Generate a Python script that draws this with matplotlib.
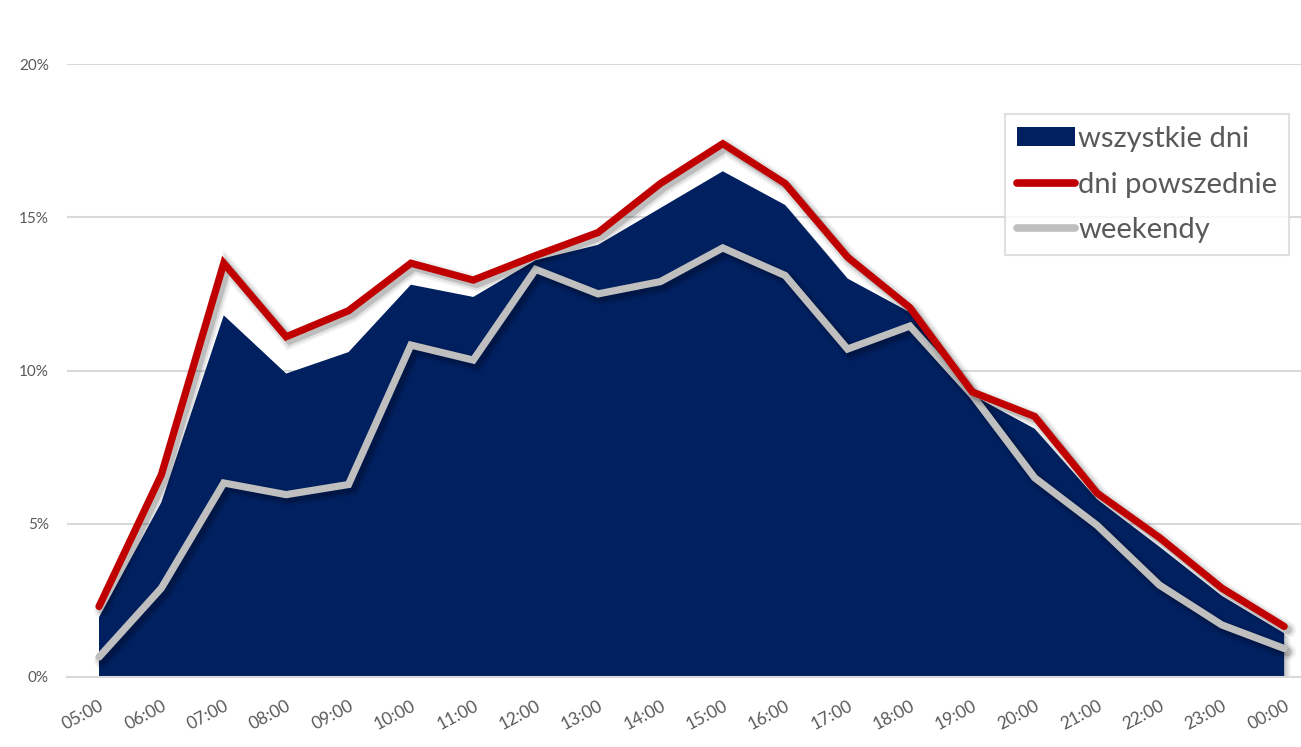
import matplotlib
matplotlib.use("Agg")
import matplotlib.pyplot as plt
import matplotlib.patheffects as pe
from matplotlib.patches import Patch
from matplotlib.lines import Line2D
from matplotlib.ticker import FuncFormatter, MultipleLocator
import matplotlib.transforms as mtransforms

plt.rcParams['font.family'] = ['Lato', 'DejaVu Sans']

hours = ["05:00", "06:00", "07:00", "08:00", "09:00", "10:00", "11:00", "12:00",
         "13:00", "14:00", "15:00", "16:00", "17:00", "18:00", "19:00", "20:00",
         "21:00", "22:00", "23:00", "00:00"]

wszystkie_dni = [1.95, 5.7, 11.8, 9.9, 10.6, 12.8, 12.4, 13.6, 14.1, 15.3,
                 16.5, 15.4, 13.0, 11.9, 9.2, 8.1, 5.8, 4.25, 2.65, 1.43]
dni_powszednie = [2.3, 6.6, 13.5, 11.1, 11.95, 13.5, 12.95, 13.75, 14.5, 16.1,
                  17.4, 16.1, 13.7, 12.05, 9.3, 8.5, 6.0, 4.55, 2.9, 1.65]
weekendy = [0.65, 2.9, 6.33, 5.95, 6.28, 10.83, 10.34, 13.3, 12.5, 12.9,
            14.0, 13.1, 10.7, 11.45, 9.2, 6.5, 4.95, 3.0, 1.7, 0.93]

NAVY = "#002060"
RED = "#C00000"
GREY = "#BFBFBF"
TXT = "#595959"
GRID = "#D9D9D9"

fig = plt.figure(figsize=(13.01, 7.47), dpi=100)
ax = fig.add_axes([67 / 1301, 70 / 747, 1234 / 1301, 613 / 747])

x = list(range(len(hours)))


def line_shadow(lw):
    return [
        pe.SimpleLineShadow(offset=(2.5, -2.5), shadow_color="k", alpha=0.05, rho=0, linewidth=lw + 7),
        pe.SimpleLineShadow(offset=(2.5, -2.5), shadow_color="k", alpha=0.08, rho=0, linewidth=lw + 4),
        pe.SimpleLineShadow(offset=(2.5, -2.5), shadow_color="k", alpha=0.15, rho=0, linewidth=lw + 1),
        pe.Normal(),
    ]


area_shadow = [
    pe.SimplePatchShadow(offset=(1.5, -1.5), shadow_rgbFace="k", alpha=0.08, rho=0),
    pe.SimplePatchShadow(offset=(3, -3), shadow_rgbFace="k", alpha=0.08, rho=0),
    pe.SimplePatchShadow(offset=(4.5, -4.5), shadow_rgbFace="k", alpha=0.06, rho=0),
    pe.Normal(),
]

ax.yaxis.grid(True, color=GRID, linewidth=1.5, zorder=0)
ax.set_axisbelow(True)

area = ax.fill_between(x, 0, wszystkie_dni, color=NAVY, linewidth=0, zorder=2)
area.set_path_effects(area_shadow)

lw = 5.2
ax.plot(x, weekendy, color=GREY, linewidth=lw, solid_capstyle="round",
        solid_joinstyle="miter", zorder=3, path_effects=line_shadow(lw))
ax.plot(x, dni_powszednie, color=RED, linewidth=lw, solid_capstyle="round",
        solid_joinstyle="miter", zorder=4, path_effects=line_shadow(lw))

ax.set_xlim(-0.513, 19.27)
ax.set_ylim(0, 20)
ax.yaxis.set_major_locator(MultipleLocator(5))
ax.yaxis.set_major_formatter(FuncFormatter(lambda v, p: f"{int(v)}%"))

ax.set_xticks(x)
ax.set_xticklabels(hours, rotation=28, ha="right", rotation_mode="anchor",
                   fontsize=12.5, color=TXT)
offset = mtransforms.ScaledTranslation(2 / 72, 0, fig.dpi_scale_trans)
for lbl in ax.get_xticklabels():
    lbl.set_transform(lbl.get_transform() + offset)

ax.tick_params(axis="y", length=0, pad=13, labelsize=11, labelcolor=TXT)
ax.tick_params(axis="x", length=0, pad=15)

for s in ["top", "right", "left"]:
    ax.spines[s].set_visible(False)
ax.spines["bottom"].set_color(GRID)
ax.spines["bottom"].set_linewidth(1.5)

handles = [
    Patch(facecolor=NAVY, edgecolor="none", label="wszystkie dni"),
    Line2D([0], [0], color=RED, linewidth=5.5, solid_capstyle="round", label="dni powszednie"),
    Line2D([0], [0], color=GREY, linewidth=5.5, solid_capstyle="round", label="weekendy"),
]
leg = ax.legend(handles=handles, loc="upper left", bbox_to_anchor=(1005 / 1301, 1 - 114 / 747),
                bbox_transform=fig.transFigure, fontsize=21, frameon=True, fancybox=False,
                edgecolor=GRID, handlelength=2.0, handleheight=0.62, handletextpad=0.12,
                labelspacing=0.68, borderpad=0.4, borderaxespad=0)
leg.get_frame().set_linewidth(1.5)
for t in leg.get_texts():
    t.set_color(TXT)

fig.savefig("out.png", dpi=100, facecolor="white")
